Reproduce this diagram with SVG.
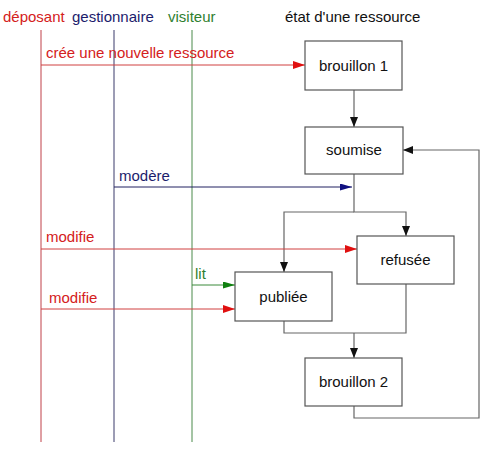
<svg xmlns="http://www.w3.org/2000/svg" width="500" height="451" viewBox="0 0 500 451">
<defs>
<style>
text{font-family:"Liberation Sans",Arial,sans-serif;font-size:15px}
.red{fill:#d42020}.blue{fill:#1c1c6c}.green{fill:#2f7f2f}.blk{fill:#111}
.box{fill:#fff;stroke:#555;stroke-width:1.2}
.conn{fill:none;stroke:#666;stroke-width:1.2}
.lr{stroke:#c04048;stroke-width:1}.lb{stroke:#3a3a6a;stroke-width:1}.lg{stroke:#4a8a4a;stroke-width:1}
.mr{stroke:#d04040;stroke-width:1}.mb{stroke:#202060;stroke-width:1}.mg{stroke:#3a8a3a;stroke-width:1}
</style>
<marker id="ak" markerWidth="10" markerHeight="8" refX="10" refY="4" orient="auto" markerUnits="userSpaceOnUse"><path d="M0,0 L10,4 L0,8 z" fill="#111"/></marker>
<marker id="ar" markerWidth="12" markerHeight="8" refX="12" refY="4" orient="auto" markerUnits="userSpaceOnUse"><path d="M0,0 L12,4 L0,8 z" fill="#e01010"/></marker>
<marker id="ab" markerWidth="12" markerHeight="7" refX="12" refY="3.5" orient="auto" markerUnits="userSpaceOnUse"><path d="M0,0 L12,3.5 L0,7 z" fill="#101080"/></marker>
<marker id="ag" markerWidth="12" markerHeight="7" refX="12" refY="3.5" orient="auto" markerUnits="userSpaceOnUse"><path d="M0,0 L12,3.5 L0,7 z" fill="#108010"/></marker>
</defs>
<rect width="500" height="451" fill="#fff"/>
<g id="lifelines">
<text x="3" y="22" class="red">déposant</text>
<text x="72" y="22" class="blue">gestionnaire</text>
<text x="168" y="22" class="green">visiteur</text>
<text x="285" y="22" class="blk">état d'une ressource</text>
<line x1="41" y1="30" x2="41" y2="442" class="lr"/>
<line x1="114" y1="30" x2="114" y2="442" class="lb"/>
<line x1="192" y1="30" x2="192" y2="442" class="lg"/>
</g>
<g id="connectors">
<path d="M354,90 V127" class="conn" marker-end="url(#ak)"/>
<path d="M354,174 V212 H406 V236" class="conn" marker-end="url(#ak)"/>
<path d="M354,212 H284 V272" class="conn" marker-end="url(#ak)"/>
<path d="M406,284 V333 H284 V321" class="conn"/>
<path d="M354,333 V358" class="conn" marker-end="url(#ak)"/>
<path d="M354,406 V418 H479 V150 H403" class="conn" marker-end="url(#ak)"/>
</g>
<g id="messages">
<line x1="41" y1="65" x2="305" y2="65" class="mr" marker-end="url(#ar)"/>
<text x="46" y="58" class="red">crée une nouvelle ressource</text>
<line x1="114" y1="187" x2="352" y2="187" class="mb" marker-end="url(#ab)"/>
<text x="119" y="181" class="blue">modère</text>
<line x1="41" y1="249" x2="357" y2="249" class="mr" marker-end="url(#ar)"/>
<text x="46" y="242" class="red">modifie</text>
<line x1="192" y1="285" x2="235" y2="285" class="mg" marker-end="url(#ag)"/>
<text x="195" y="279" class="green">lit</text>
<line x1="41" y1="309" x2="235" y2="309" class="mr" marker-end="url(#ar)"/>
<text x="49" y="303" class="red">modifie</text>
</g>
<g id="brouillon1"><rect x="305" y="41" width="97" height="49" class="box"/><text x="353.5" y="71" text-anchor="middle" class="blk">brouillon 1</text></g>
<g id="soumise"><rect x="305" y="127" width="98" height="47" class="box"/><text x="354" y="155" text-anchor="middle" class="blk">soumise</text></g>
<g id="refusee"><rect x="357" y="236" width="97" height="48" class="box"/><text x="405.5" y="265" text-anchor="middle" class="blk">refusée</text></g>
<g id="publiee"><rect x="235" y="272" width="97" height="49" class="box"/><text x="283.5" y="302" text-anchor="middle" class="blk">publiée</text></g>
<g id="brouillon2"><rect x="305" y="358" width="97" height="48" class="box"/><text x="353.5" y="387" text-anchor="middle" class="blk">brouillon 2</text></g>
</svg>
